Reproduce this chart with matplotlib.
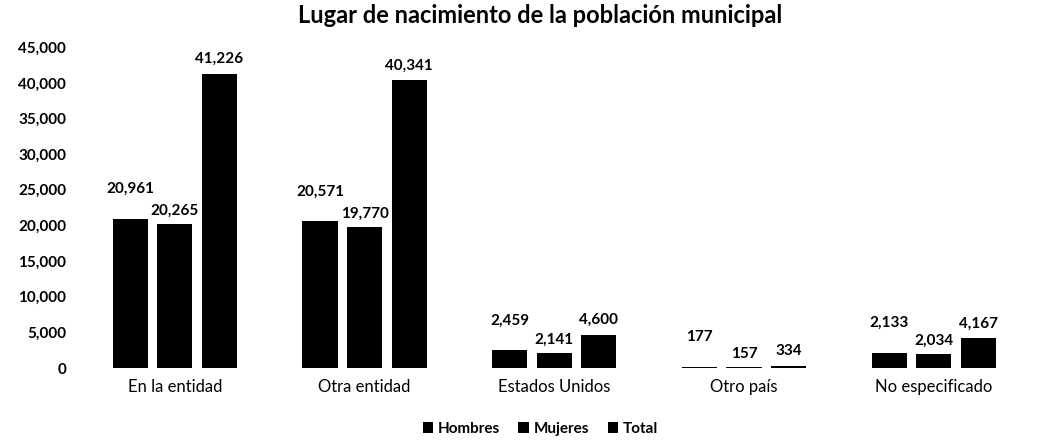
import matplotlib
matplotlib.use("Agg")
import matplotlib.pyplot as plt
import numpy as np

categories = ["En la entidad", "Otra entidad", "Estados Unidos", "Otro país", "No especificado"]
hombres = [20961, 20571, 2459, 177, 2133]
mujeres = [20265, 19770, 2141, 157, 2034]
total = [41226, 40341, 4600, 334, 4167]
series_names = ["Hombres", "Mujeres", "Total"]
yticks = [0, 5000, 10000, 15000, 20000, 25000, 30000, 35000, 40000, 45000]

plt.rcParams['font.family'] = ['Lato', 'DejaVu Sans']

fig = plt.figure(figsize=(10.39, 4.45), dpi=100)
ax = fig.add_axes([0.077, 0.173, 0.913, 0.721])

x = np.arange(len(categories))
w = 0.185
step = 0.235
offsets_px = [30, 13, 15]
for i, (name, vals) in enumerate(zip(series_names, [hombres, mujeres, total])):
    xs = x + (i - 1) * step
    bars = ax.bar(xs, vals, width=w, color="black", label=name)
    for xi, v in zip(xs, vals):
        ax.annotate(f"{v:,}", (xi, v), xytext=(0, offsets_px[i] * 0.72),
                    textcoords="offset points", ha="center", va="center",
                    fontsize=11, fontweight="bold")

ax.set_xlim(-0.5, len(categories) - 0.5)
ax.set_ylim(0, 45000)
ax.set_yticks(yticks)
ax.set_yticklabels([f"{t:,}" for t in yticks], fontsize=11, fontweight="bold")
ax.set_xticks(x)
ax.set_xticklabels(categories, fontsize=12)
ax.tick_params(length=0, pad=10)
ax.tick_params(axis="x", pad=8)
for s in ax.spines.values():
    s.set_visible(False)

fig.suptitle("Lugar de nacimiento de la población municipal", fontsize=17,
             fontweight="bold", x=0.52, y=0.99, va="top")
fig.legend(loc="lower center", bbox_to_anchor=(0.52, -0.01), ncol=3, frameon=False,
           handlelength=0.7, handleheight=0.7, handletextpad=0.3,
           columnspacing=1.2, prop={'weight': 'bold', 'size': 11})

fig.savefig("out.png", dpi=100)
